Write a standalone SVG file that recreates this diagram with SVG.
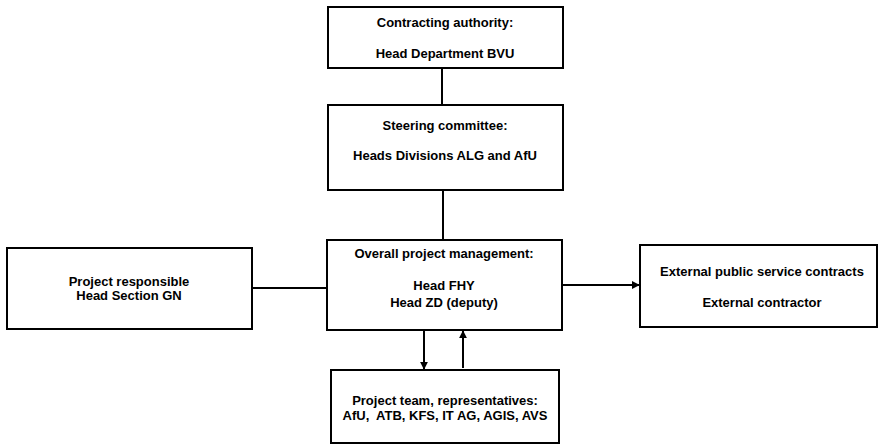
<svg xmlns="http://www.w3.org/2000/svg" width="879" height="445" viewBox="0 0 879 445">
  <style>
    .box { fill: #ffffff; stroke: #000000; stroke-width: 2; }
    .edge { fill: none; stroke: #000000; stroke-width: 2; }
    .label { font-family: "Liberation Sans", Arial, sans-serif; font-weight: bold; font-size: 13px; fill: #000000; text-anchor: middle; white-space: pre; }
  </style>
  <defs>
    <marker id="arrow" viewBox="0 0 10 10" refX="9" refY="5" markerWidth="4" markerHeight="4" orient="auto" markerUnits="strokeWidth">
      <path d="M0,0 L10,5 L0,10 z" fill="#000000"/>
    </marker>
  </defs>
  <rect width="879" height="445" fill="#ffffff"/>

  <g id="connectors">
    <line class="edge" x1="442" y1="68" x2="442" y2="105"/>
    <line class="edge" x1="443" y1="190" x2="443" y2="240"/>
    <line class="edge" x1="252" y1="288" x2="327" y2="288"/>
    <line class="edge" x1="562" y1="285" x2="639" y2="285" marker-end="url(#arrow)"/>
    <line class="edge" x1="424" y1="330" x2="424" y2="369" marker-end="url(#arrow)"/>
    <line class="edge" x1="463" y1="368" x2="463" y2="331" marker-end="url(#arrow)"/>
  </g>

  <g id="contracting-authority">
    <rect class="box" x="328" y="7" width="235" height="61"/>
    <text class="label" x="445" y="27">Contracting authority:</text>
    <text class="label" x="445" y="58">Head Department BVU</text>
  </g>

  <g id="steering-committee">
    <rect class="box" x="328" y="105" width="235" height="85"/>
    <text class="label" x="445" y="130">Steering committee:</text>
    <text class="label" x="445" y="160">Heads Divisions ALG and AfU</text>
  </g>

  <g id="overall-management">
    <rect class="box" x="327" y="240" width="235" height="90"/>
    <text class="label" x="444" y="258">Overall project management:</text>
    <text class="label" x="444" y="290">Head FHY</text>
    <text class="label" x="444" y="307">Head ZD (deputy)</text>
  </g>

  <g id="project-responsible">
    <rect class="box" x="7" y="248" width="245" height="81"/>
    <text class="label" x="129" y="286">Project responsible</text>
    <text class="label" x="129" y="300">Head Section GN</text>
  </g>

  <g id="external">
    <rect class="box" x="640" y="245" width="237" height="82"/>
    <text class="label" x="762" y="276">External public service contracts</text>
    <text class="label" x="762" y="307">External contractor</text>
  </g>

  <g id="project-team">
    <rect class="box" x="331" y="370" width="228" height="73"/>
    <text class="label" x="445" y="405">Project team, representatives:</text>
    <text class="label" x="445" y="420">AfU,  ATB, KFS, IT AG, AGIS, AVS</text>
  </g>
</svg>
